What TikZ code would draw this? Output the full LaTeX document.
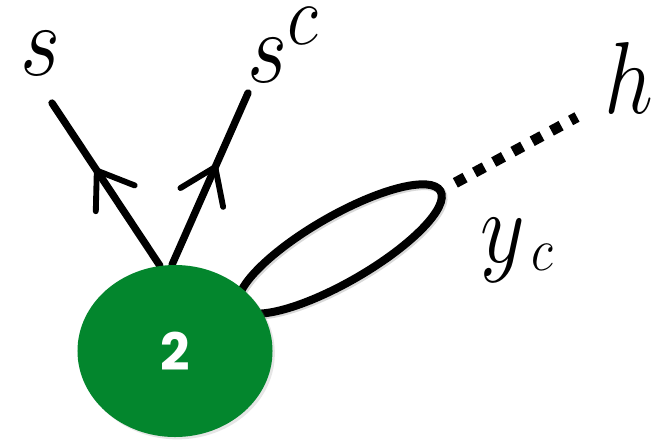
\RequirePackage{fix-cm}
\documentclass[tikz,border=0pt]{standalone}
\usepackage{graphicx}
\usepackage{fontspec}
\newfontfamily\digitfont{Poppins}
\usetikzlibrary{arrows.meta, positioning, shapes.geometric, decorations.markings, shadows, backgrounds}
\definecolor{nodegreen}{HTML}{03862D}

\begin{document}
\begin{tikzpicture}[x=0.03cm, y=-0.03cm,
    vertex/.style={ellipse, fill=nodegreen, minimum width=5.85cm, minimum height=5.16cm, inner sep=0pt,
      drop shadow={shadow xshift=2pt, shadow yshift=-2pt, opacity=0.2}},
    loopshape/.style={ellipse, draw, line width=0.24cm, minimum width=6.96cm, minimum height=1.98cm,
      inner sep=0pt, rotate=30,
      preaction={draw=black!60, opacity=0.25, transform canvas={xshift=1.5pt, yshift=-1.5pt}}},
    flow/.style={line width=0.22cm, line cap=round, postaction={decorate},
      decoration={markings, mark=at position #1 with {\arrow{Straight Barb[length=1cm, width=1.4cm, line width=5pt, round]}}}},
    squaredots/.style={line width=0.32cm, dash pattern=on 0.33cm off 0.325cm, shorten <=0.39cm},
    lbl/.style={inner sep=0pt, anchor=base west, font=\fontsize{74}{88}\selectfont}]
  \useasboundingbox (0,0) rectangle (651,439);
  % self loop behind the vertex
  \node[loopshape] (loop) at (340,249) {};
  % vertex
  \node[vertex] (v2) at (175,351) {\color{white}\fontsize{44}{52}\selectfont\digitfont\bfseries 2};
  % outgoing arrows
  \coordinate (stip) at (52,103);
  \coordinate (sctip) at (248,93);
  \begin{scope}[on background layer]
    \draw[flow=0.60] (v2.100) -- (stip);
    \draw[flow=0.585] (v2.92) -- (sctip);
  \end{scope}
  % dotted link to h
  \coordinate (hend) at (577,117);
  \draw[squaredots] (loop.east) -- (hend);
  % labels
  \node[lbl] (s) at (20,75) {\scalebox{1}[1.18]{$s$}};
  \node[lbl] (sc) at (247,82) {\scalebox{1}[1.18]{$s^{\scalebox{1.2}{$\scriptstyle c$}}$}};
  \node[lbl] (h) at (604,113) {\scalebox{1}[1.18]{$h$}};
  \node[lbl] (yc) at (480,262) {\scalebox{1}[1.18]{$y_{\mkern3mu\raisebox{5pt}{\scalebox{0.85}{$\scriptstyle c$}}}$}};
\end{tikzpicture}
\end{document}
